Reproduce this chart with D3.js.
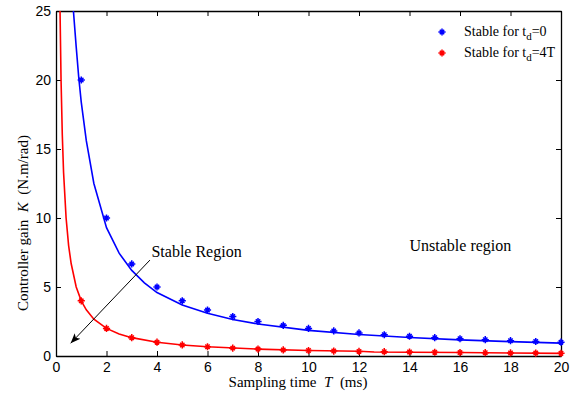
<!DOCTYPE html>
<html><head><meta charset="utf-8">
<script src="https://cdn.jsdelivr.net/npm/d3@7/dist/d3.min.js"></script>
<style>body{margin:0;background:#fff} text{white-space:pre}</style>
</head><body><svg id="c" width="585" height="397"></svg>
<script>
// Sampled points (markers)
const samplingT = [1,2,3,4,5,6,7,8,9,10,11,12,13,14,15,16,17,18,19,20];
const stableTd0 = [20,10,6.67,5,4,3.33,2.86,2.5,2.22,2,1.82,1.67,1.54,1.43,1.33,1.25,1.18,1.11,1.05,1.0];
const stableTd4T = [4,2,1.33,1,0.8,0.67,0.57,0.5,0.44,0.4,0.36,0.33,0.31,0.29,0.27,0.25,0.24,0.22,0.21,0.2];
// Boundary curves
const curveT0 = [0.69,0.8,0.9,1,1.2,1.5,2,2.5,3,3.5,4,5,6,7,8,10,12,14,16,18,20];
const curveK0 = [25,22.4,20.2,18.4,15.6,12.5,9.3,7.45,6.2,5.3,4.6,3.7,3.1,2.65,2.32,1.86,1.56,1.34,1.17,1.04,0.93];
const curveT1 = [0.16,0.2,0.25,0.3,0.4,0.5,0.6,0.8,1,1.2,1.5,2,2.5,3,4,5,6,8,10,12,12.6,14,16,18,20];
const curveK1 = [25,20,16,13.3,10,8,6.7,5,4,3.35,2.67,2,1.6,1.33,1,0.8,0.67,0.5,0.4,0.34,0.29,0.27,0.25,0.22,0.19];
const xTicks = [0,2,4,6,8,10,12,14,16,18,20];
const yTicks = [0,5,10,15,20,25];
const legendLabels = [["Stable for t","d","=0"],["Stable for t","d","=4T"]];
const seriesColors = ["#0000ff","#ff0000"];
const annotations = [{text:"Stable Region",T:3.78,K:7.15},{text:"Unstable region",T:14.0,K:7.6}];
const arrowFrom = {T:3.72,K:6.95}, arrowTo = {T:0.58,K:0.92};

const svg = d3.select("#c");
const L=56,R=561,Tp=11,B=356;
const x = d3.scaleLinear().domain([0,20]).range([L,R]);
const y = d3.scaleLinear().domain([0,25]).range([B,Tp]);
const sans = "Liberation Sans, Arial, sans-serif";
const serif = "Liberation Serif, Times New Roman, serif";

const clip = svg.append("defs").append("clipPath").attr("id","pc").append("rect")
  .attr("x",L).attr("y",Tp).attr("width",R-L).attr("height",B-Tp);
svg.select("defs").append("marker").attr("id","ah").attr("viewBox","0 0 10 10")
  .attr("refX",10).attr("refY",5).attr("markerWidth",10).attr("markerHeight",10)
  .attr("markerUnits","userSpaceOnUse").attr("orient","auto")
  .append("path").attr("d","M0,1 L10,5 L0,9 L2.5,5 Z").attr("fill","#000");

// Axes
const xb = svg.append("g").attr("transform",`translate(0,${B})`)
  .call(d3.axisBottom(x).tickValues(xTicks).tickSizeInner(-5).tickSizeOuter(0).tickPadding(6));
const xt = svg.append("g").attr("transform",`translate(0,${Tp})`)
  .call(d3.axisTop(x).tickValues(xTicks).tickSizeInner(-5).tickSizeOuter(0).tickFormat(""));
const yl = svg.append("g").attr("transform",`translate(${L},0)`)
  .call(d3.axisLeft(y).tickValues(yTicks).tickSizeInner(-5).tickSizeOuter(0).tickPadding(5));
const yr = svg.append("g").attr("transform",`translate(${R},0)`)
  .call(d3.axisRight(y).tickValues(yTicks).tickSizeInner(-5).tickSizeOuter(0).tickFormat(""));
[xb,xt,yl,yr].forEach(g=>{
  g.selectAll("path.domain").attr("stroke","#000").attr("stroke-width",1.3);
  g.selectAll(".tick line").attr("stroke","#000");
  g.selectAll(".tick text").attr("font-family",sans).attr("font-size",14).attr("fill","#000");
});

// Curves
const line = d3.line().x(d=>x(d[0])).y(d=>y(d[1]));
const g = svg.append("g").attr("clip-path","url(#pc)");
[[curveT0,curveK0],[curveT1,curveK1]].forEach((c,i)=>{
  g.append("path").datum(c[0].map((t,j)=>[t,c[1][j]])).attr("d",line)
   .attr("fill","none").attr("stroke",seriesColors[i]).attr("stroke-width",1.6);
});
// markers
function star(sel,cx,cy,col){
  const s=3.6,d=2.2;
  sel.append("path").attr("d",`M${cx-s},${cy}H${cx+s}M${cx},${cy-s}V${cy+s}M${cx-d},${cy-d}L${cx+d},${cy+d}M${cx-d},${cy+d}L${cx+d},${cy-d}`)
    .attr("stroke",col).attr("stroke-width",1.5).attr("fill","none");
}
[stableTd0,stableTd4T].forEach((ser,i)=>{
  samplingT.forEach((t,j)=>star(svg,x(t),y(ser[j]),seriesColors[i]));
});

// Legend
legendLabels.forEach((lab,i)=>{
  const ly = 32 + i*21;
  star(svg,442,ly,seriesColors[i]);
  const t = svg.append("text").attr("x",464).attr("y",ly+4).attr("font-family",serif).attr("font-size",14).attr("fill","#000");
  t.append("tspan").text(lab[0]);
  t.append("tspan").attr("font-size",11).attr("dy",4).text(lab[1]);
  t.append("tspan").attr("dy",-4).text(lab[2]);
});

// Annotations
annotations.forEach(a=>{
  svg.append("text").attr("x",x(a.T)).attr("y",y(a.K)).attr("font-family",serif).attr("font-size",16).attr("fill","#000").text(a.text);
});
svg.append("line").attr("x1",x(arrowFrom.T)).attr("y1",y(arrowFrom.K)).attr("x2",x(arrowTo.T)).attr("y2",y(arrowTo.K))
  .attr("stroke","#000").attr("stroke-width",1).attr("marker-end","url(#ah)");

// Axis titles
const xtitle = svg.append("text").attr("x",298).attr("y",387).attr("text-anchor","middle").attr("font-family",serif).attr("font-size",15).attr("fill","#000");
xtitle.append("tspan").text("Sampling time  ");
xtitle.append("tspan").attr("font-style","italic").text("T");
xtitle.append("tspan").text("  (ms)");
const ytitle = svg.append("text").attr("transform","translate(28,223) rotate(-90)").attr("text-anchor","middle").attr("font-family",serif).attr("font-size",15).attr("fill","#000");
ytitle.append("tspan").text("Controller gain  ");
ytitle.append("tspan").attr("font-style","italic").text("K");
ytitle.append("tspan").text("  (N.m/rad)");
</script></body></html>
